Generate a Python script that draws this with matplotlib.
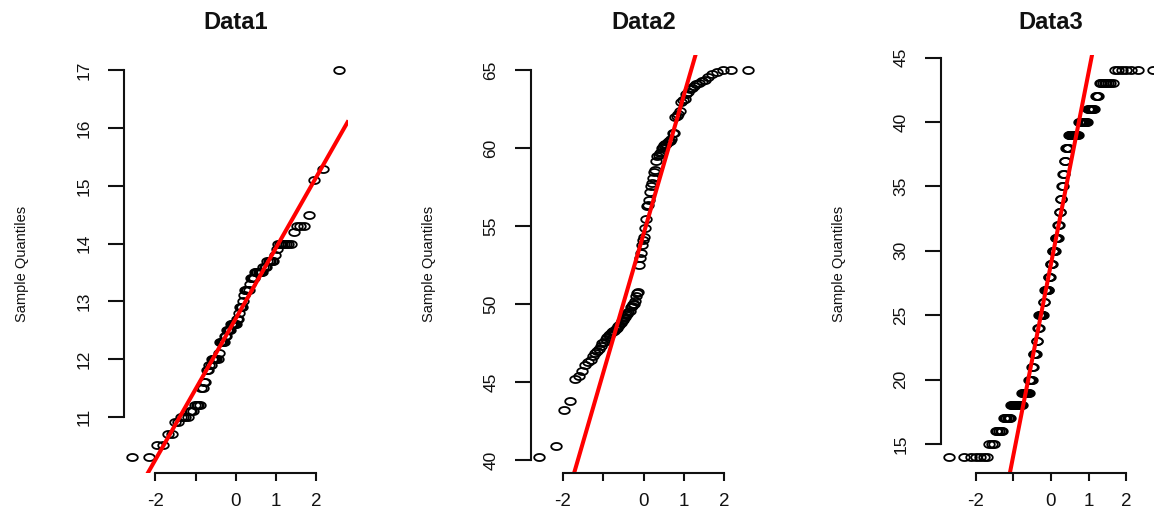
import numpy as np
import matplotlib
matplotlib.use('Agg')
import matplotlib.pyplot as plt
from matplotlib.path import Path
from statistics import NormalDist

plt.rcParams['font.family'] = ['Liberation Sans', 'DejaVu Sans']
plt.rcParams['axes.unicode_minus'] = False

# ---------------- data (sorted sample values) ----------------
titles = ['Data1', 'Data2', 'Data3']

data1 = [10.3, 10.3, 10.5, 10.5, 10.7, 10.7, 10.9, 10.9, 11.0, 11.0,
         11.0, 11.0, 11.1, 11.1, 11.1, 11.2, 11.2, 11.2, 11.2, 11.5,
         11.5, 11.6, 11.6, 11.8, 11.8, 11.9, 11.9, 12.0, 12.0, 12.0,
         12.0, 12.0, 12.0, 12.1, 12.3, 12.3, 12.3, 12.3, 12.3, 12.4,
         12.4, 12.5, 12.5, 12.5, 12.5, 12.6, 12.6, 12.6, 12.6, 12.6,
         12.6, 12.7, 12.7, 12.8, 12.9, 12.9, 12.9, 13.0, 13.1, 13.2,
         13.2, 13.2, 13.2, 13.3, 13.4, 13.4, 13.4, 13.4, 13.5, 13.5,
         13.5, 13.5, 13.5, 13.5, 13.5, 13.6, 13.6, 13.6, 13.7, 13.7,
         13.7, 13.7, 13.7, 13.8, 13.9, 14.0, 14.0, 14.0, 14.0, 14.0,
         14.0, 14.0, 14.2, 14.3, 14.3, 14.3, 14.5, 15.1, 15.3, 17.0]

data2 = [40.2, 40.9, 43.2, 43.8, 45.2, 45.4, 45.7, 46.1, 46.3, 46.4,
         46.7, 46.9, 47.0, 47.1, 47.3, 47.5, 47.6, 47.8, 47.9, 48.0,
         48.1, 48.2, 48.3, 48.3, 48.4, 48.5, 48.6, 48.7, 48.8, 48.9,
         49.0, 49.1, 49.2, 49.3, 49.4, 49.5, 49.6, 49.8, 49.9, 50.0,
         50.0, 50.2, 50.5, 50.7, 50.8, 52.5, 53.0, 53.3, 53.8, 54.1,
         54.3, 54.9, 55.5, 56.3, 56.4, 56.7, 57.2, 57.6, 57.8, 58.1,
         58.5, 58.6, 59.2, 59.5, 59.6, 59.7, 59.8, 60.0, 60.1, 60.2,
         60.3, 60.3, 60.4, 60.5, 60.5, 60.6, 61.0, 61.0, 62.0, 62.1,
         62.2, 62.4, 63.0, 63.1, 63.2, 63.5, 63.6, 63.8, 63.9, 64.0,
         64.1, 64.2, 64.3, 64.4, 64.6, 64.8, 64.9, 65.0, 65.0, 65.0]

# Data3: integer values and how many observations sit on each value
data3_values = [14, 15, 16, 17, 18, 19, 20, 21, 22, 23, 24, 25, 26, 27, 28, 29,
                30, 31, 32, 33, 34, 35, 36, 37, 38, 39, 40, 41, 42, 43, 44]
data3_counts = [7, 3, 5, 6, 12, 9, 4, 2, 4, 2, 2, 7, 2, 6, 3, 3,
                5, 4, 2, 2, 2, 2, 2, 2, 4, 13, 10, 7, 3, 8, 7]
data3 = list(np.repeat(data3_values, data3_counts).astype(float))

yticks = [[11, 12, 13, 14, 15, 16, 17],
          [40, 45, 50, 55, 60, 65],
          [15, 20, 25, 30, 35, 40, 45]]
xticks = [-2, -1, 0, 1, 2]
xtick_labels = ['-2', '', '0', '1', '2']
ylabel = 'Sample Quantiles'

# ---------------- helpers ----------------
nd = NormalDist()


def ppoints(n):
    a = 3 / 8 if n <= 10 else 0.5
    return [(i + 1 - a) / (n + 1 - 2 * a) for i in range(n)]


def r_range(v):
    lo, hi = min(v), max(v)
    pad = 0.04 * (hi - lo)
    return lo - pad, hi + pad


# ellipse marker (the reference's circles are horizontally stretched)
t = np.linspace(0, 2 * np.pi, 61)
ell = Path(np.column_stack([1.5 * np.cos(t), np.sin(t)]), closed=True)

W, H = 1154, 508
fig = plt.figure(figsize=(W / 100, H / 100), dpi=100)

# axes boxes in pixels: left, width
boxes = [(124, 223.5), (531, 225), (941, 220)]
top_px, bot_px = 55, 472.5

for k, (vals, title) in enumerate(zip([data1, data2, data3], titles)):
    left, width = boxes[k]
    ax = fig.add_axes([left / W, (H - bot_px) / H, width / W, (bot_px - top_px) / H])
    y = np.sort(np.asarray(vals, dtype=float))
    n = len(y)
    x = np.array([nd.inv_cdf(p) for p in ppoints(n)])
    ax.plot(x, y, linestyle='none', marker=ell, markersize=7.6,
            markerfacecolor='none', markeredgecolor='black', markeredgewidth=1.3)
    # qqline through the quartiles
    yq = np.quantile(y, [0.25, 0.75])
    xq = np.array([nd.inv_cdf(0.25), nd.inv_cdf(0.75)])
    slope = (yq[1] - yq[0]) / (xq[1] - xq[0])
    inter = yq[0] - slope * xq[0]
    ax.axline((0, inter), slope=slope, color='#ff0000', lw=2.9)

    ax.set_xlim(*r_range(x))
    ax.set_ylim(*r_range(y))

    for s in ['top', 'right']:
        ax.spines[s].set_visible(False)
    ax.spines['left'].set_bounds(yticks[k][0], yticks[k][-1])
    ax.spines['bottom'].set_bounds(xticks[0], xticks[-1])
    for s in ['left', 'bottom']:
        ax.spines[s].set_linewidth(1.5)
        ax.spines[s].set_color('#111111')

    ax.set_xticks(xticks)
    ax.set_xticklabels(xtick_labels)
    ax.set_yticks(yticks[k])
    ax.set_yticklabels([str(v) for v in yticks[k]], rotation=90, va='center')
    ax.tick_params(axis='y', length=11.5, width=1.5, pad=12, labelsize=12.5,
                   colors='#111111')
    ax.tick_params(axis='x', length=5.8, width=1.5, pad=9, labelsize=13.5,
                   colors='#111111')

    ax.set_title(title, fontsize=17, fontweight='bold', pad=19, color='#111111')
    ax.annotate(ylabel, xy=(0, 0.5), xycoords='axes fraction',
                xytext=(-73.5, 0), textcoords='offset points',
                rotation=90, ha='center', va='center', fontsize=10.5,
                color='#111111')

fig.savefig('out.png', dpi=100)
